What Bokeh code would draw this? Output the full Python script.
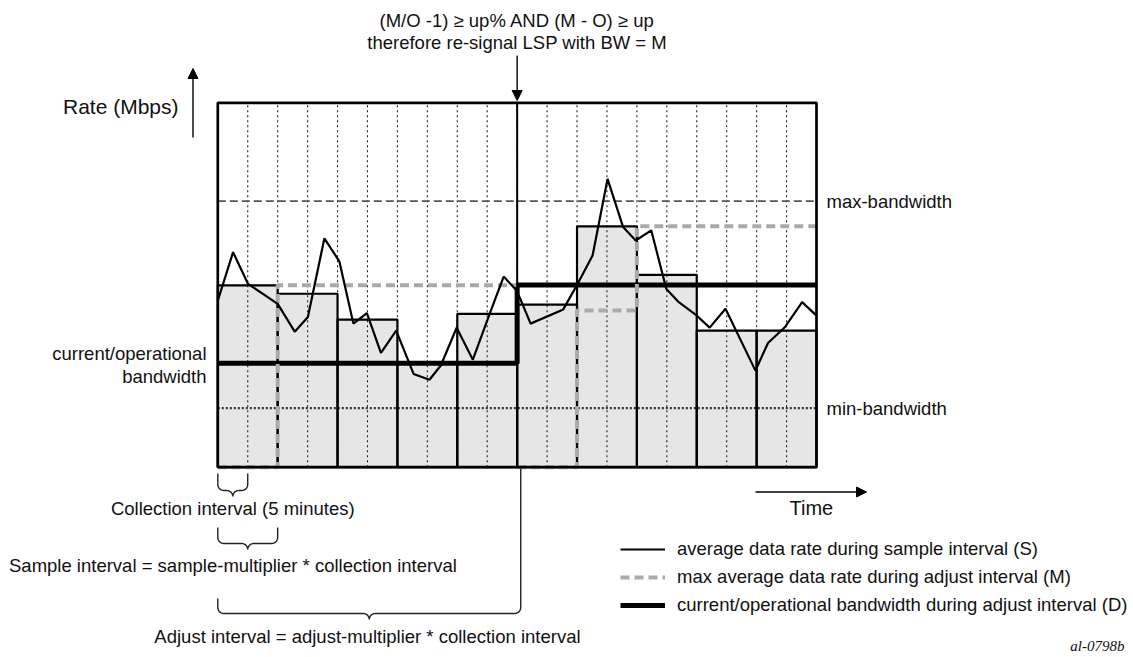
import numpy as np
from bokeh.plotting import figure
from bokeh.models import Range1d, Label, Arrow, NormalHead, Legend, LegendItem
from bokeh.embed import file_html
from bokeh.resources import INLINE

# ---------------- data ----------------
X_MAX = 20          # collection intervals shown
Y_MAX = 100         # rate axis top (arbitrary units)
SAMPLE_LEN = 2      # collection intervals per sample interval
ADJUST_LEN = 10     # collection intervals per adjust interval

collection_ticks = list(range(1, 20))
sample_starts = [0, 2, 4, 6, 8, 10, 12, 14, 16, 18]
sample_bars = [49.9, 47.6, 40.5, 28.5, 42.1, 44.6, 66.1, 52.8, 37.5, 37.5]
max_in_adjust = [0.0, 49.9, 49.9, 49.9, 49.9, 0.0, 43.0, 66.1, 66.1, 66.1]
adjust_starts = [0, 10]
oper_bw = [28.5, 50.0]
max_bandwidth = 73.0
min_bandwidth = 16.2

rate_x = [0, 0.51, 1.01, 2.0, 2.57, 3.01, 3.56, 4.06, 4.53, 4.98, 5.45, 5.96,
          6.54, 7.07, 7.45, 7.98, 8.52, 9.1, 9.55, 9.96, 10.1, 10.45, 11.54,
          12.0, 12.52, 13.02, 13.54, 13.96, 14.48, 14.98, 15.4, 15.96, 16.43,
          16.96, 17.96, 18.38, 18.94, 19.52, 20.0]
rate_y = [45.7, 59.0, 50.3, 44.8, 37.2, 41.2, 62.8, 56.5, 39.4, 42.3, 31.4, 37.5,
          25.6, 24.0, 27.9, 38.3, 29.5, 42.5, 52.3, 48.7, 46.3, 39.4, 43.3,
          50.0, 58.1, 79.1, 65.9, 62.2, 65.0, 49.0, 45.3, 41.9, 38.3,
          43.5, 26.5, 34.1, 38.4, 45.3, 41.6]

legend_labels = ["average data rate during sample interval (S)",
                 "max average data rate during adjust interval (M)",
                 "current/operational bandwidth during adjust interval (D)"]

# ---------------- layout ----------------
W, H = 1133, 657
PX0, PX1 = 217.3, 816.0     # page px of x=0 and x=X_MAX
PY0, PY1 = 466.7, 102.3     # page px of y=0 and y=Y_MAX
sx = (PX1 - PX0) / X_MAX
sy = (PY0 - PY1) / Y_MAX


def dx(px):
    return (px - PX0) / sx


def dy(py):
    return (PY0 - py) / sy


FONT = "Liberation Sans"
FS = "18.5px"
INK = "#111111"

p = figure(width=W, height=H, x_range=Range1d(dx(0), dx(W)),
           y_range=Range1d(dy(H), dy(0)), x_axis_type=None, y_axis_type=None,
           output_backend="svg", toolbar_location=None, min_border=0,
           outline_line_color=None, background_fill_color="white",
           border_fill_color="white")

# bars (fill)
bar_right = [s + SAMPLE_LEN for s in sample_starts]
p.quad(left=sample_starts, right=bar_right, bottom=0, top=sample_bars,
       fill_color="#e6e6e6", line_color=None)

# dotted collection-interval grid
p.segment(x0=collection_ticks, y0=[0] * len(collection_ticks), x1=collection_ticks,
          y1=[Y_MAX] * len(collection_ticks), line_color="#222222", line_width=1.1,
          line_dash="2 3")

# max / min bandwidth reference lines
p.segment(x0=[0], y0=[max_bandwidth], x1=[X_MAX], y1=[max_bandwidth],
          line_color="#555555", line_width=1.8, line_dash="8 4")
p.segment(x0=[0], y0=[min_bandwidth], x1=[X_MAX], y1=[min_bandwidth],
          line_color="#333333", line_width=2.2, line_dash="2 2")

# bar outlines
p.quad(left=sample_starts, right=bar_right, bottom=0, top=sample_bars,
       fill_color=None, line_color="black", line_width=2.2)

# D: current/operational bandwidth (step per adjust interval)
d_x, d_y = [], []
for a, d in zip(adjust_starts, oper_bw):
    d_x += [a, a + ADJUST_LEN]
    d_y += [d, d]
r_d = p.line(d_x, d_y, line_color="black", line_width=5)

# M: max average data rate during adjust interval
m_xs, m_ys = [], []
for a in adjust_starts:
    xs, ys = [], []
    for s, m in zip(sample_starts, max_in_adjust):
        if a <= s < a + ADJUST_LEN:
            xs += [s, s + SAMPLE_LEN]
            ys += [m, m]
    m_xs.append(xs)
    m_ys.append(ys)
r_m = p.multi_line(m_xs, m_ys, line_color="#aaaaaa", line_width=4, line_dash="9 5")

# S: average data rate
r_s = p.line(rate_x, rate_y, line_color="black", line_width=2.2)

# re-signal moment (start of second adjust interval)
p.segment(x0=[adjust_starts[1]], y0=[0], x1=[adjust_starts[1]], y1=[Y_MAX],
          line_color="black", line_width=2)

# plot box
p.quad(left=[0], right=[X_MAX], bottom=[0], top=[Y_MAX], fill_color=None,
       line_color="black", line_width=2.7)


# ---------------- braces ----------------
def brace(xa, xb, top_l, top_r, mid, r=6.0, n=8):
    pa, pb = PX0 + xa * sx, PX0 + xb * sx
    pc = (pa + pb) / 2
    t = np.linspace(0, np.pi / 2, n)
    xs = [pa]
    ys = [top_l]
    xs += list(pa + r - r * np.cos(t)); ys += list(mid - r + r * np.sin(t))
    xs += list(pc - r + r * np.sin(t)); ys += list(mid + r - r * np.cos(t))
    tr = t[::-1]
    xs += list(pc + r - r * np.sin(tr)); ys += list(mid + r - r * np.cos(tr))
    xs += list(pb - r + r * np.sin(t)); ys += list(mid - r + r * np.cos(t))
    xs += [pb]; ys += [top_r]
    p.line([dx(v) for v in xs], [dy(v) for v in ys], line_color="#222222",
           line_width=1.4)


brace(0, 1, 473, 473, 490)
brace(0, SAMPLE_LEN, 527, 527, 543)
brace(0, ADJUST_LEN + 0.12, 598, 468, 613)


# ---------------- arrows ----------------
def arrow(x0, y0, x1, y1):
    p.add_layout(Arrow(end=NormalHead(size=10, fill_color="black", line_color="black"),
                       x_start=x0, y_start=y0, x_end=x1, y_end=y1,
                       line_color="black", line_width=1.4))


arrow(dx(192.5), dy(137), dx(192.5), dy(68))
arrow(adjust_starts[1], dy(55), adjust_starts[1], dy(100))
arrow(dx(755), dy(491.5), dx(866), dy(491.5))


# ---------------- labels ----------------
def label(txt, x, y, align="left", size=FS, font=FONT, style="normal"):
    p.add_layout(Label(x=x, y=y, text=txt, text_align=align, text_baseline="middle",
                       text_font=font, text_font_size=size, text_font_style=style,
                       text_color=INK))


label("(M/O -1) \u2265 up% AND (M - O) \u2265 up", adjust_starts[1], dy(20), "center")
label("therefore re-signal LSP with BW = M", adjust_starts[1], dy(42), "center")
label("Rate (Mbps)", dx(178), dy(106), "right", "21px")
label("max-bandwidth", dx(826), max_bandwidth)
label("min-bandwidth", dx(826), min_bandwidth)
label("current/operational", dx(206), dy(353), "right")
label("bandwidth", dx(206), dy(376), "right")
label("Time", dx(789), dy(507), "left", "20px")
label("Collection interval (5 minutes)", 0.5, dy(508), "center")
label("Sample interval = sample-multiplier * collection interval", dx(8.5), dy(565))
label("Adjust interval = adjust-multiplier * collection interval", ADJUST_LEN / 2,
      dy(636), "center")
label("al-0798b", dx(1124), dy(645), "right", "15px", "Liberation Serif", "italic")

# ---------------- legend ----------------
legend = Legend(items=[LegendItem(label=legend_labels[0], renderers=[r_s]),
                       LegendItem(label=legend_labels[1], renderers=[r_m]),
                       LegendItem(label=legend_labels[2], renderers=[r_d])],
                location=(620, 41), orientation="vertical",
                glyph_width=45, glyph_height=20, label_height=20, spacing=6,
                padding=0, margin=0, label_standoff=12,
                label_text_font=FONT, label_text_font_size=FS,
                label_text_color=INK, border_line_color=None,
                background_fill_alpha=0)
p.add_layout(legend)

open("out.html", "w").write(file_html(p, INLINE))
